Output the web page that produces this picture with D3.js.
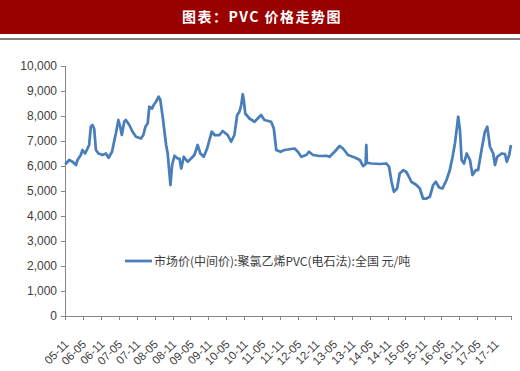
<!DOCTYPE html>
<html>
<head>
<meta charset="utf-8">
<script src="https://cdn.jsdelivr.net/npm/d3@7"></script>
<style>
  body { margin: 0; background: #fff; }
  .axis text { font-family: "Liberation Sans", Arial, sans-serif; fill: #404040; }
  .axis path, .axis line { stroke: #868686; shape-rendering: crispEdges; }
</style>
</head>
<body>
<div id="chart"></div>
<script>
// PVC 市场价(中间价)
var dates = [
  "2005-11-04","2005-12-14","2006-01-17","2006-02-21","2006-03-08","2006-04-11","2006-04-28","2006-05-25",
  "2006-06-18","2006-07-05","2006-07-22","2006-08-08","2006-08-25","2006-09-12","2006-10-08","2006-11-18",
  "2006-12-23","2007-01-19","2007-02-23","2007-03-16","2007-04-03","2007-04-29","2007-05-17","2007-06-03",
  "2007-06-27","2007-07-14","2007-08-18","2007-09-20","2007-10-25","2007-12-15","2008-01-08","2008-01-29",
  "2008-02-21","2008-03-09","2008-04-06","2008-04-22","2008-05-16","2008-06-12","2008-06-29","2008-07-23",
  "2008-08-27","2008-09-12","2008-10-10","2008-10-27","2008-11-20","2008-12-23","2009-01-10","2009-01-28",
  "2009-02-23","2009-04-03","2009-05-08","2009-06-11","2009-07-14","2009-08-11","2009-09-14","2009-10-19",
  "2009-11-11","2009-12-05","2010-01-02","2010-02-22","2010-03-26","2010-05-16","2010-06-20","2010-07-23",
  "2010-08-21","2010-09-13","2010-10-01","2010-10-17","2010-10-27","2010-11-11","2010-12-24","2011-02-14",
  "2011-03-18","2011-04-22","2011-05-25","2011-08-02","2011-08-29","2011-09-23","2011-11-06","2011-12-16",
  "2012-02-06","2012-03-27","2012-04-30","2012-06-04","2012-07-25","2012-08-21","2012-10-01","2012-12-08",
  "2013-02-15","2013-03-19","2013-05-09","2013-06-30","2013-08-03","2013-09-23","2013-11-30","2014-01-21",
  "2014-02-24","2014-03-21","2014-03-28","2014-04-03","2014-05-18","2014-08-12","2014-10-19","2014-11-15",
  "2014-12-10","2015-01-03","2015-02-05","2015-03-03","2015-04-08","2015-05-10","2015-06-01","2015-06-30",
  "2015-08-21","2015-09-24","2015-10-27","2015-12-01","2016-01-04","2016-02-07","2016-03-05","2016-04-08",
  "2016-05-12","2016-06-22","2016-07-26","2016-08-23","2016-09-16","2016-10-03","2016-10-19","2016-11-06",
  "2016-11-23","2016-12-17","2017-01-14","2017-02-16","2017-03-14","2017-04-17","2017-05-10","2017-06-14",
  "2017-07-18","2017-08-11","2017-09-08","2017-10-11","2017-10-29","2017-11-21","2018-01-05","2018-02-08",
  "2018-02-26","2018-03-23","2018-04-09"
];
var prices = [
  6070,6240,6170,6040,6240,6440,6640,6500,
  6700,6840,7570,7640,7500,6640,6500,6440,
  6500,6330,6570,6970,7300,7840,7570,7240,
  7770,7840,7640,7370,7170,7100,7240,7570,
  7700,8370,8300,8440,8570,8770,8640,7970,
  6840,6500,5240,6040,6410,6300,6300,5900,
  6370,6170,6300,6440,6840,6500,6370,6700,
  7040,7370,7240,7240,7400,7240,6970,7240,
  8040,8170,8440,8870,8640,8100,7900,7770,
  7900,8040,7840,7770,7500,6640,6570,6640,
  6670,6700,6570,6370,6440,6570,6440,6400,
  6410,6370,6570,6800,6700,6440,6340,6240,
  6000,6070,6840,6130,6100,6080,6100,5970,
  5370,4970,5100,5700,5830,5760,5600,5370,
  5240,5100,4700,4700,4770,5240,5370,5140,
  5100,5440,5840,6370,6910,7440,7970,7440,
  6240,6100,6500,6240,5640,5840,5840,6640,
  7370,7570,6770,6500,6040,6370,6500,6480,
  6170,6440,6840
];
var yTicks = [0, 1000, 2000, 3000, 4000, 5000, 6000, 7000, 8000, 9000, 10000];
var xTickLabels = ["05-11","06-05","06-11","07-05","07-11","08-05","08-11","09-05","09-11",
  "10-05","10-11","11-05","11-11","12-05","12-11","13-05","13-11","14-05","14-11",
  "15-05","15-11","16-05","16-11","17-05","17-11"];
var title = "图表：PVC 价格走势图";
var legendLabel = "市场价(中间价):聚氯乙烯PVC(电石法):全国 元/吨";

var width = 520, height = 371;
var parse = d3.timeParse("%Y-%m-%d");
var parseTick = d3.timeParse("%y-%m");

var data = dates.map(function (d, i) { return { date: parse(d), value: prices[i] }; });

var svg = d3.select("#chart").append("svg")
    .attr("width", width)
    .attr("height", height);

svg.append("rect")
    .attr("width", width).attr("height", height)
    .attr("fill", "#fff");

// header band
svg.append("rect")
    .attr("x", 0).attr("y", 0)
    .attr("width", width).attr("height", 34)
    .attr("fill", "#990000");
svg.append("rect")
    .attr("x", 0).attr("y", 38)
    .attr("width", width).attr("height", 2)
    .attr("fill", "#7f7f7f");
svg.append("text")
    .attr("x", 262).attr("y", 22)
    .attr("text-anchor", "middle")
    .attr("fill", "#fff")
    .style("font-family", "'Noto Sans CJK SC', sans-serif")
    .style("font-size", "14px")
    .style("font-weight", "bold")
    .style("letter-spacing", "1.5px")
    .text(title);

var x = d3.scaleTime()
    .domain([parse("2005-11-01"), parse("2018-04-10")])
    .range([65, 511]);

var y = d3.scaleLinear()
    .domain([0, 10000])
    .range([316, 66]);

var yAxis = svg.append("g")
    .attr("class", "axis")
    .attr("transform", "translate(65,0)")
    .call(d3.axisLeft(y).tickValues(yTicks).tickFormat(d3.format(",")).tickSizeOuter(0).tickSize(4).tickPadding(4));
yAxis.selectAll("text").style("font-size", "12px");

var xAxis = svg.append("g")
    .attr("class", "axis")
    .attr("transform", "translate(0,316)")
    .call(d3.axisBottom(x)
        .tickValues(xTickLabels.map(function (s) { return parseTick(s); }))
        .tickFormat(d3.timeFormat("%y-%m"))
        .tickSizeOuter(0).tickSize(4));
xAxis.selectAll("text")
    .style("font-size", "11.5px")
    .attr("text-anchor", "end")
    .attr("dy", "0.35em")
    .attr("transform", "translate(1,26) rotate(-45)")
    .attr("y", 0).attr("x", 0);

var line = d3.line()
    .x(function (d) { return x(d.date); })
    .y(function (d) { return y(d.value); });

svg.append("path")
    .datum(data)
    .attr("d", line)
    .attr("fill", "none")
    .attr("stroke", "#4a7ebb")
    .attr("stroke-width", 2.75)
    .attr("stroke-linejoin", "round");

// legend
svg.append("line")
    .attr("x1", 125).attr("x2", 152)
    .attr("y1", 261).attr("y2", 261)
    .attr("stroke", "#4a7ebb")
    .attr("stroke-width", 2.75);
svg.append("text")
    .attr("x", 154).attr("y", 265.5)
    .attr("fill", "#404040")
    .style("font-family", "'Noto Sans CJK SC', sans-serif")
    .style("font-size", "12px")
    .text(legendLabel);
</script>
</body>
</html>
